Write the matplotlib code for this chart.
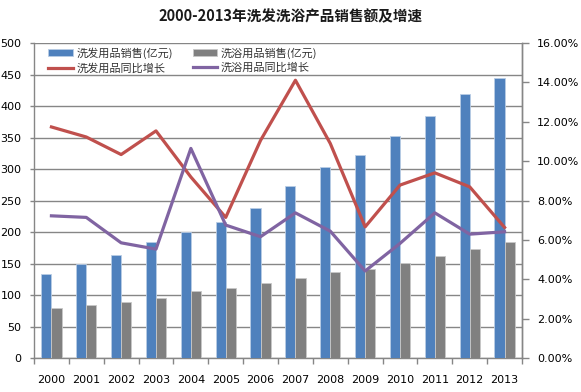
import matplotlib
matplotlib.use("Agg")
import matplotlib.pyplot as plt
import numpy as np
from matplotlib.ticker import FuncFormatter, FixedLocator

plt.rcParams['font.family'] = ['Noto Sans CJK SC', 'DejaVu Sans']

years = ['2000', '2001', '2002', '2003', '2004', '2005', '2006',
         '2007', '2008', '2009', '2010', '2011', '2012', '2013']
hair_sales = [134, 149, 164, 184, 201, 216, 238, 273, 303, 323, 352, 385, 419, 445]
bath_sales = [79, 84, 90, 96, 106, 112, 120, 128, 137, 141, 151, 162, 173, 184]
hair_growth = [11.74, 11.23, 10.34, 11.54, 9.2, 7.15, 11.06, 14.11, 10.9, 6.67, 8.79, 9.41, 8.7, 6.64]
bath_growth = [7.23, 7.15, 5.86, 5.54, 10.65, 6.76, 6.17, 7.38, 6.45, 4.43, 5.83, 7.38, 6.30, 6.42]

c_blue = '#4F81BD'
c_grey = '#808080'
c_red = '#C0504D'
c_purple = '#8064A2'
axis_col = '#868686'

fig = plt.figure(figsize=(5.81, 3.92), dpi=100)
ax = fig.add_axes([34/581, 1-358.3/392, (522-34)/581, (358.3-43)/392])
x = np.arange(len(years))
w = 0.29
b1 = ax.bar(x - 0.145, hair_sales, width=w, color=c_blue, edgecolor='#B9CDE5', linewidth=0.6, zorder=3)
b2 = ax.bar(x + 0.145, bath_sales, width=w, color=c_grey, edgecolor='#C8C8C8', linewidth=0.6, zorder=3)
ax.set_ylim(0, 500)
ax.set_xlim(-0.5, len(years) - 0.5)
ax.set_yticks(np.arange(0, 501, 50))
ax.yaxis.grid(True, color=axis_col, linewidth=1.0, zorder=0)
ax.set_axisbelow(True)
ax.set_xticks(x)
ax.set_xticklabels(years, fontsize=8, family='DejaVu Sans')
ax.tick_params(axis='x', which='major', length=0, pad=12)
ax.xaxis.set_minor_locator(FixedLocator(np.arange(-0.5, len(years), 1.0)))
ax.tick_params(axis='x', which='minor', length=4, color=axis_col, width=1)
ax.tick_params(axis='y', length=3, color=axis_col, width=1, labelsize=8, pad=6)
for lab in ax.get_yticklabels():
    lab.set_family('DejaVu Sans')
ax.spines['top'].set_visible(False)
for s in ['left', 'bottom', 'right']:
    ax.spines[s].set_color(axis_col)
    ax.spines[s].set_linewidth(1.0)

ax2 = ax.twinx()
l1, = ax2.plot(x, hair_growth, color=c_red, linewidth=2.3, zorder=5)
l2, = ax2.plot(x, bath_growth, color=c_purple, linewidth=2.3, zorder=5)
ax2.set_ylim(0, 16)
ax2.set_yticks(np.arange(0, 16.01, 2))
ax2.yaxis.set_major_formatter(FuncFormatter(lambda v, p: f"{v:.2f}%"))
ax2.tick_params(axis='y', length=5, color=axis_col, width=1, labelsize=8, pad=6)
for lab in ax2.get_yticklabels():
    lab.set_family('DejaVu Sans')
for s in ['top', 'left', 'bottom']:
    ax2.spines[s].set_visible(False)
ax2.spines['right'].set_color(axis_col)
ax2.spines['right'].set_linewidth(1.0)

handles = [b1, l1, b2, l2]
labels = ['洗发用品销售(亿元)', '洗发用品同比增长', '洗浴用品销售(亿元)', '洗浴用品同比增长']
leg = ax2.legend(handles, labels, ncol=2, frameon=False, fontsize=8,
                 loc='upper left', bbox_to_anchor=(44/581, 1-43/392),
                 bbox_transform=fig.transFigure, handlelength=2.2,
                 handleheight=0.6, handletextpad=0.3, columnspacing=1.8,
                 labelspacing=0.35, borderaxespad=0)
for t in leg.get_texts():
    t.set_color('#333333')

fig.text(0.5, 1-16/392, '2000-2013年洗发洗浴产品销售额及增速', ha='center', va='center',
         fontsize=10.5, fontweight='bold', color='#1a1a1a')

fig.savefig('out.png', dpi=100)
